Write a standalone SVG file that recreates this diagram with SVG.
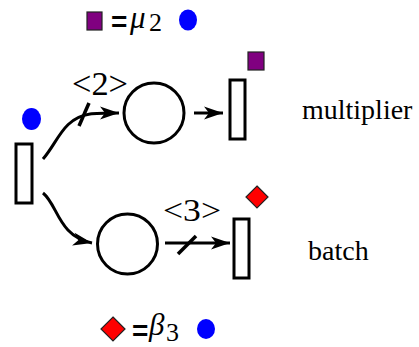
<svg xmlns="http://www.w3.org/2000/svg" width="419" height="347" viewBox="0 0 419 347">
<style>
.pl{fill:#fff;stroke:#000;stroke-width:3}
.tr{fill:#fff;stroke:#000;stroke-width:3}
.c{fill:none;stroke:#000;stroke-width:3}
.tk{stroke:#000;stroke-width:3.5}
.lb{font-family:"Liberation Serif","Times New Roman",serif;font-size:28px;fill:#000}
.mt{font-family:"Liberation Serif","Times New Roman",serif;fill:#000}
.eq{font-family:"Liberation Sans",Arial,sans-serif;font-weight:bold;font-size:28px;fill:#000}
.tok{fill:#0000ff}
.pur{fill:#800080;stroke:#222;stroke-width:1.2}
.red{fill:#ff0000;stroke:#222;stroke-width:1.2}
</style>
<defs>
<marker id="ah" markerUnits="userSpaceOnUse" markerWidth="24" markerHeight="16" viewBox="-20 -8 22 16" refX="0" refY="0" orient="auto">
<path d="M0,0 L-19,-6.5 L-14,0 L-19,6.5 Z" fill="#000"/>
</marker>
</defs>
<rect width="419" height="347" fill="#fff"/>

<g id="legend-top">
<rect class="pur" x="87" y="12" width="15" height="18"/>
<text class="eq" x="111" y="31">=</text>
<text class="mt" x="130" y="28" font-size="31" font-style="italic">μ</text>
<text class="mt" x="149" y="31" font-size="26">2</text>
<ellipse class="tok" cx="188" cy="20" rx="9" ry="10.5"/>
</g>

<g id="connectors">
<path class="c" d="M43,159 C58,142 63,118 90,114 C96,113 100,113 119,113" marker-end="url(#ah)"/>
<line class="tk" x1="89" y1="103" x2="79" y2="126"/>
<line class="c" x1="194" y1="113" x2="223" y2="113" marker-end="url(#ah)"/>
<path class="c" d="M43,193 C58,205 58,236 92,243" marker-end="url(#ah)"/>
<line class="c" x1="165" y1="243" x2="230" y2="243" marker-end="url(#ah)"/>
<line class="tk" x1="196" y1="236" x2="178" y2="254"/>
</g>

<g id="t-left">
<ellipse class="tok" cx="31.5" cy="119" rx="9.5" ry="11"/>
<rect class="tr" x="16" y="144" width="16" height="59"/>
</g>

<g id="p-top">
<circle class="pl" cx="154" cy="113" r="30"/>
<text class="mt" x="72" y="95" font-size="33" textLength="56" lengthAdjust="spacingAndGlyphs">&lt;2&gt;</text>
</g>

<g id="t-multiplier">
<rect class="pur" x="248" y="52" width="16" height="18"/>
<rect class="tr" x="230" y="80" width="15" height="59"/>
<text class="lb" x="302" y="119">multiplier</text>
</g>

<g id="p-bottom">
<circle class="pl" cx="127.5" cy="244" r="30"/>
<text class="mt" x="163" y="221" font-size="31" textLength="58" lengthAdjust="spacingAndGlyphs">&lt;3&gt;</text>
</g>

<g id="t-batch">
<polygon class="red" points="257,186 268,197 257,208 246,197"/>
<rect class="tr" x="234" y="219" width="15" height="59"/>
<text class="lb" x="308" y="260">batch</text>
</g>

<g id="legend-bottom">
<polygon class="red" points="113,317 125,329 113,341 101,329"/>
<text class="eq" x="132" y="340">=</text>
<text class="mt" x="149" y="335" font-size="31" font-style="italic">β</text>
<text class="mt" x="166" y="341" font-size="26">3</text>
<ellipse class="tok" cx="206" cy="329" rx="9" ry="10"/>
</g>
</svg>
